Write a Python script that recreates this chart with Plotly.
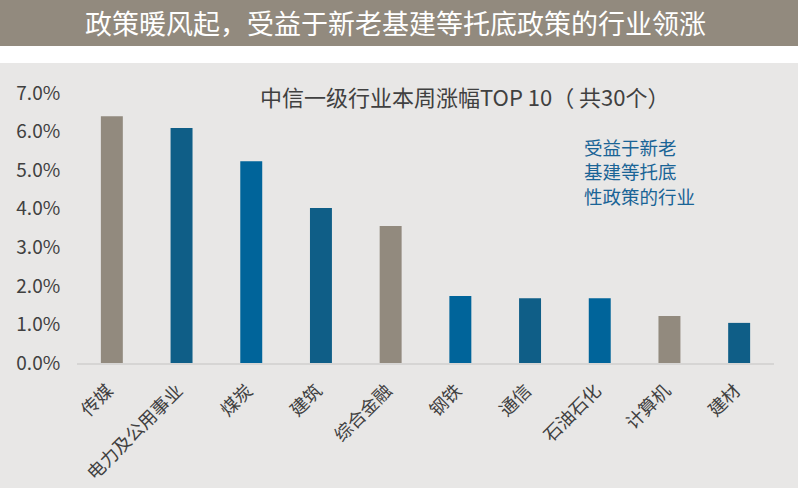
import plotly.graph_objects as go

categories = ["传媒", "电力及公用事业", "煤炭", "建筑", "综合金融", "钢铁", "通信", "石油石化", "计算机", "建材"]
values = [6.40, 6.09, 5.23, 4.02, 3.55, 1.74, 1.68, 1.68, 1.22, 1.04]
bar_colors = ["#928a7e", "#0f5e87", "#00649a", "#0f5e87", "#928a7e",
              "#00649a", "#0f5e87", "#00649a", "#928a7e", "#0f5e87"]
y_ticks = [0, 1, 2, 3, 4, 5, 6, 7]
y_tick_labels = ["0.0%", "1.0%", "2.0%", "3.0%", "4.0%", "5.0%", "6.0%", "7.0%"]
banner_title = "政策暖风起，受益于新老基建等托底政策的行业领涨"
chart_title = "中信一级行业本周涨幅TOP 10（ 共30个）"
note_lines = ["受益于新老", "基建等托底", "性政策的行业"]

W, H = 798, 488
FONT = "Noto Sans CJK SC"

fig = go.Figure()
fig.add_trace(go.Bar(
    x=categories, y=values, marker=dict(color=bar_colors, line=dict(width=0)),
    hoverinfo="skip",
))

def py(px):
    return 1 - px / H

shapes = [
    dict(type="rect", xref="paper", yref="paper", x0=0, x1=1, y0=py(46), y1=1,
         fillcolor="#928a7e", line=dict(width=0), layer="below"),
    dict(type="rect", xref="paper", yref="paper", x0=0, x1=1, y0=0, y1=py(63),
         fillcolor="#e8e7e6", line=dict(width=0), layer="below"),
]

annotations = [
    dict(text=banner_title, xref="paper", yref="paper", x=395 / W, y=py(23),
         xanchor="center", yanchor="middle", showarrow=False,
         font=dict(family=FONT, size=27, color="#ffffff")),
    dict(text=chart_title, xref="paper", yref="paper", x=465 / W, y=py(96),
         xanchor="center", yanchor="middle", showarrow=False,
         font=dict(family=FONT, size=22, color="#404040")),
]
for i, line in enumerate(note_lines):
    annotations.append(dict(text=line, xref="paper", yref="paper", x=582 / W, y=py(147 + 24.5 * i),
                            xanchor="left", yanchor="middle", showarrow=False,
                            font=dict(family=FONT, size=18.5, color="#1a6496")))

fig.update_layout(
    width=W, height=H,
    margin=dict(l=0, r=0, t=0, b=0, pad=0),
    paper_bgcolor="#ffffff", plot_bgcolor="rgba(0,0,0,0)",
    showlegend=False,
    bargap=0.685,
    shapes=shapes, annotations=annotations,
    xaxis=dict(domain=[77 / W, 774 / W], showgrid=False, showline=True, linecolor="#d6d5d4",
               linewidth=2, tickangle=-45, ticks="outside", ticklen=8, tickcolor="rgba(0,0,0,0)",
               ticklabelshift=-4, automargin=False,
               tickfont=dict(family=FONT, size=18, color="#404040")),
    yaxis=dict(domain=[py(363), py(93)], range=[0, 7], tickvals=y_ticks, ticktext=y_tick_labels,
               showgrid=False, zeroline=False, automargin=False,
               showline=False, ticks="outside", ticklen=12, tickcolor="rgba(0,0,0,0)",
               tickfont=dict(family=FONT, size=19, color="#404040")),
)

fig.write_html("out.html", config={"displayModeBar": False},
               post_script="document.body.style.margin='0';document.body.style.overflow='hidden';")
